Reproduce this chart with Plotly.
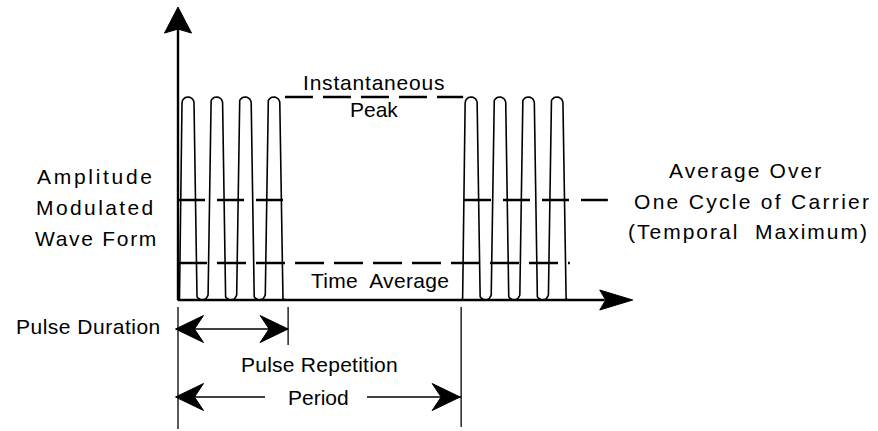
import numpy as np
import plotly.graph_objects as go

# ---------------- data (abstract units: time in carrier cycles, amplitude normalised) ----
burst_start_cycles = [0.0, 9.9]          # start of each pulse burst
cycles_per_burst = 4                      # carrier cycles inside one pulse
pulse_duration = 3.85                     # cycles
repetition_period = 9.9                   # cycles
level_names = ["Instantaneous Peak", "Temporal Maximum", "Time Average"]
level_values = [1.0, 0.4926, 0.1823]      # amplitude levels
peak_line_span = [3.74, 9.97]             # dashed peak marker (between bursts)
tmax_line_spans = [[0.0, 3.85], [10.0, 15.03]]
tavg_line_span = [0.0, 13.7]
time_axis_end = 15.9
amp_axis_end = 1.443

# ---------------- scale helpers (pixel offsets -> data units) -----------------------------
W, H = 878, 431
X0_PX, Y0_PX = 178.0, 300.0      # origin of the diagram axes in the picture
PX_PER_CYCLE, PX_PER_AMP = 28.6, 203.0
x_range = [-X0_PX / PX_PER_CYCLE, (W - X0_PX) / PX_PER_CYCLE]
y_range = [-(H - Y0_PX) / PX_PER_AMP, Y0_PX / PX_PER_AMP]


def dx(p):
    return p / PX_PER_CYCLE


def dy(p):
    return p / PX_PER_AMP


def px_x(p):
    return (p - X0_PX) / PX_PER_CYCLE


def px_y(p):
    return (Y0_PX - p) / PX_PER_AMP


BLACK = "#000000"
FONT = "Liberation Sans, Arial, sans-serif"

fig = go.Figure()


def add_line(xs, ys, width=1.5, dash=None):
    fig.add_trace(go.Scatter(x=xs, y=ys, mode="lines", hoverinfo="skip",
                             line=dict(color=BLACK, width=width, dash=dash)))


def arc(cx, cy, rx, ry, a0, a1, n=16):
    th = np.linspace(a0, a1, n)
    return list(cx + rx * np.cos(th)), list(cy + ry * np.sin(th))


# ---------------- waveform bursts ---------------------------------------------------------
rise_off, rise_run, top_w, fall_run = 1.5, 2.5, 12.0, 2.5   # px
A = level_values[0]
for t0 in burst_start_cycles:
    xs, ys = [], []
    r0 = t0 + dx(rise_off)
    rf = 2.0
    ax_, ay_ = arc(r0 - dx(rf), dy(rf), dx(rf), dy(rf), 1.5 * np.pi, 2 * np.pi, 6)
    xs += [t0] + ax_
    ys += [0.0] + ay_
    for k in range(cycles_per_burst):
        r = r0 + k
        rxt = dx(top_w / 2)
        ryt = dy(top_w / 2)
        cx = r + dx(rise_run) + rxt
        tx, ty = arc(cx, A - ryt, rxt, ryt, np.pi, 0.0)
        xs += tx
        ys += ty
        f = cx + rxt + dx(fall_run)
        if k < cycles_per_burst - 1:
            rb_px = (PX_PER_CYCLE - rise_run - top_w - fall_run) / 2
            bx, by = arc(f + dx(rb_px), dy(rb_px), dx(rb_px), dy(rb_px), np.pi, 2 * np.pi)
            xs += bx
            ys += by
        else:
            fx, fy = arc(f + dx(3.5), dy(3.5), dx(3.5), dy(3.5), np.pi, 1.5 * np.pi, 6)
            xs += fx
            ys += fy
    add_line(xs, ys, width=1.6)

# ---------------- level lines (dashed) ----------------------------------------------------
add_line(peak_line_span, [level_values[0]] * 2, width=2.6, dash="28px,10px")
for span in tmax_line_spans:
    add_line(span, [level_values[1]] * 2, width=2.6, dash="27px,12px")
add_line(tavg_line_span, [level_values[2]] * 2, width=2.6, dash="29px,10px")

# ---------------- axes with arrowheads ----------------------------------------------------


def arrowhead(tip_x, tip_y, direction, L, Wd, notch):
    """direction: 'right','left','up' ; sizes in px."""
    if direction == "right":
        pts = [(0, 0), (-L, Wd / 2), (-L + notch, 0), (-L, -Wd / 2), (0, 0)]
    elif direction == "left":
        pts = [(0, 0), (L, Wd / 2), (L - notch, 0), (L, -Wd / 2), (0, 0)]
    else:  # up
        pts = [(0, 0), (Wd / 2, -L), (0, -L + notch), (-Wd / 2, -L), (0, 0)]
    xs = [tip_x + dx(p[0]) for p in pts]
    ys = [tip_y + dy(p[1]) for p in pts]
    fig.add_trace(go.Scatter(x=xs, y=ys, mode="lines", fill="toself", fillcolor=BLACK,
                             hoverinfo="skip", line=dict(color=BLACK, width=1)))


add_line([0, 0], [0, amp_axis_end - dy(22)], width=2.4)
arrowhead(0, amp_axis_end, "up", 26, 27, 4)
add_line([0, time_axis_end - dx(28)], [0, 0], width=2.4)
arrowhead(time_axis_end, 0, "right", 33, 20, 6)

# ---------------- dimension lines below the axis -----------------------------------------
add_line([0, 0], [px_y(307), px_y(429)], width=1.3)
add_line([pulse_duration, pulse_duration], [px_y(307), px_y(345)], width=1.3)
add_line([repetition_period, repetition_period], [px_y(307), px_y(427)], width=1.3)

yd = px_y(329)
add_line([0, pulse_duration], [yd, yd], width=1.3)
arrowhead(-dx(2.5), yd, "left", 28, 27, 9)
arrowhead(pulse_duration, yd, "right", 28, 27, 9)

yp = px_y(397)
add_line([0, px_x(265)], [yp, yp], width=1.3)
add_line([px_x(367), repetition_period], [yp, yp], width=1.3)
arrowhead(-dx(2.5), yp, "left", 28, 27, 9)
arrowhead(repetition_period - dx(1), yp, "right", 28, 27, 9)

# ---------------- labels ------------------------------------------------------------------
labels = [
    ("Amplitude", 96, 176, 2.7),
    ("Modulated", 96, 207, 2.4),
    ("Wave Form", 96, 238.5, 1.7),
    ("Instantaneous", 374, 82, 0.8),
    ("Peak", 374, 109, 0),
    ("Average Over", 746, 170, 2.1),
    ("One Cycle of Carrier", 752, 201, 2.3),
    ("(Temporal\u00a0 Maximum)", 748, 231, 2.0),
    ("Time\u00a0 Average", 380, 280, 0.3),
    ("Pulse Duration", 88, 326, 0.5),
    ("Pulse Repetition", 319, 364, 0.25),
    ("Period", 318, 397.5, 0),
]
for txt, xp, yp_, ls in labels:
    fig.add_annotation(x=px_x(xp), y=px_y(yp_), xref="x", yref="y",
                       text=f'<span style="letter-spacing:{ls}px">{txt}</span>',
                       showarrow=False, xanchor="center", yanchor="middle",
                       font=dict(family=FONT, size=21, color=BLACK))

fig.update_layout(
    width=W, height=H, autosize=False,
    margin=dict(l=0, r=0, t=0, b=0),
    paper_bgcolor="white", plot_bgcolor="white", showlegend=False,
    xaxis=dict(range=x_range, visible=False, fixedrange=True),
    yaxis=dict(range=y_range, visible=False, fixedrange=True),
)

fig.write_html(
    "out.html",
    config={"displayModeBar": False},
    post_script="document.body.style.margin='0';document.body.style.overflow='hidden';",
)
